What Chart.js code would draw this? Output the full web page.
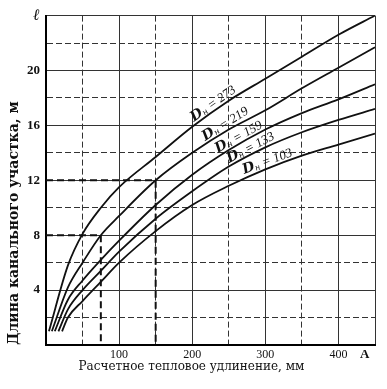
<!DOCTYPE html>
<html>
<head>
<meta charset="utf-8">
<script src="https://cdn.jsdelivr.net/npm/chart.js@4.4.0/dist/chart.umd.min.js"></script>
<style>
  html, body { margin: 0; padding: 0; background: #fff; }
  #wrap { width: 387px; height: 389px; position: relative; }
</style>
</head>
<body>
<div id="wrap"><canvas id="chart"></canvas></div>
<script>
// pipe outer diameters, one curve each
const diameters = [273, 219, 159, 133, 103];

// where each curve starts (near the origin)
const startDelta = [4, 8, 12, 17, 22];
const startLength = [1.0, 1.0, 1.0, 1.0, 1.0];

// thermal elongation, mm, and length of section, m
const deltaPoints = [30, 50, 75, 100, 150, 200, 250, 300, 350, 400, 450];
const len273 = [5.8, 8.1, 10.0, 11.5, 13.7, 15.9, 17.8, 19.4, 21.0, 22.6, 24.0];
const len219 = [4.2, 6.0, 8.0, 9.4, 12.0, 14.0, 15.7, 17.1, 18.7, 20.2, 21.7];
const len159 = [3.3, 4.7, 6.2, 7.6, 10.2, 12.4, 14.2, 15.7, 16.9, 17.9, 19.0];
const len133 = [2.6, 4.0, 5.4, 6.8, 9.2, 11.2, 13.0, 14.4, 15.5, 16.4, 17.2];
const len103 = [2.0, 3.2, 4.6, 6.0, 8.3, 10.2, 11.6, 12.8, 13.8, 14.6, 15.4];

// worked examples (dashed guides)
const guideLength = [12, 8];
const guideDelta = [150, 75];

const yTicks = [4, 8, 12, 16, 20];
const xTicks = [100, 200, 300, 400];

const allLengths = [len273, len219, len159, len133, len103];

// where along each curve its label sits (elongation, mm)
const labelAt = [234, 250, 268, 284, 306];

const datasets = allLengths.map((vals, i) => ({
    label: 'D ' + diameters[i],
    data: [{ x: startDelta[i], y: startLength[i] }]
        .concat(deltaPoints.map((x, j) => ({ x: x, y: vals[j] }))),
    borderColor: '#111',
    borderWidth: 1.8,
    pointRadius: 0,
    cubicInterpolationMode: 'monotone',
    fill: false
}));

guideLength.forEach((l, i) => {
    datasets.push({
        label: 'guide',
        data: [{ x: 0, y: l }, { x: guideDelta[i], y: l }, { x: guideDelta[i], y: 0 }],
        borderColor: '#111',
        borderWidth: 2,
        borderDash: [7, 4],
        pointRadius: 0,
        tension: 0,
        fill: false
    });
});

const curveLabels = {
    id: 'curveLabels',
    afterDatasetsDraw(chart) {
        const ctx = chart.ctx;
        const xs = chart.scales.x;
        diameters.forEach((d, i) => {
            const pts = chart.getDatasetMeta(i).data;
            const px = xs.getPixelForValue(labelAt[i]);
            let j = 0;
            while (j < pts.length - 2 && pts[j + 1].x < px) j++;
            const a = pts[j], b = pts[j + 1];
            const t = (px - a.x) / (b.x - a.x);
            const py = a.y + (b.y - a.y) * t;
            const ang = Math.atan2(b.y - a.y, b.x - a.x);

            const fD = 'italic bold 14px "DejaVu Serif"';
            const fSub = 'italic 8px "DejaVu Serif"';
            const fNum = 'italic 13px "Liberation Serif"';
            const rest = ' = ' + d;
            ctx.save();
            ctx.font = fD; const wD = ctx.measureText('D').width;
            ctx.font = fSub; const wS = ctx.measureText('н').width;
            ctx.font = fNum; const wN = ctx.measureText(rest).width;
            const total = wD + wS + wN;
            ctx.translate(px, py);
            ctx.rotate(ang);
            ctx.fillStyle = '#111';
            ctx.textBaseline = 'alphabetic';
            ctx.textAlign = 'left';
            let x0 = -total / 2;
            const y0 = -3;
            ctx.font = fD; ctx.fillText('D', x0, y0); x0 += wD;
            ctx.font = fSub; ctx.fillText('н', x0, y0 + 1); x0 += wS;
            ctx.font = fNum; ctx.fillText(rest, x0, y0);
            ctx.restore();
        });

        // end-of-axis letter on the elongation axis
        ctx.save();
        ctx.font = 'bold 13px "Liberation Serif"';
        ctx.fillStyle = '#111';
        ctx.textAlign = 'center';
        ctx.textBaseline = 'middle';
        ctx.fillText('A', xs.getPixelForValue(436), xs.top + 10);
        ctx.restore();
    }
};

const dashMinor = (ctx) => {
    if (!ctx.tick) return [];
    return ctx.tick.value % 100 === 0 || ctx.tick.value === 450 ? [] : [6, 3];
};
const dashMinorY = (ctx) => {
    if (!ctx.tick) return [];
    return ctx.tick.value % 4 === 0 ? [] : [6, 3];
};

new Chart(document.getElementById('chart'), {
    type: 'line',
    data: { datasets: datasets },
    options: {
        responsive: true,
        maintainAspectRatio: false,
        animation: false,
        layout: { padding: { top: 15, right: 12, bottom: 14, left: 0 } },
        plugins: { legend: { display: false }, tooltip: { enabled: false } },
        scales: {
            x: {
                type: 'linear',
                min: 0,
                max: 450,
                afterFit: s => { s.height = 30; },
                ticks: {
                    stepSize: 50,
                    autoSkip: false,
                    maxRotation: 0,
                    padding: 3,
                    color: '#111',
                    font: { family: 'Liberation Serif', size: 12 },
                    callback: v => xTicks.includes(v) ? String(v) : ''
                },
                grid: { color: '#333', lineWidth: 1, drawTicks: false },
                border: { color: '#000', width: 2, dash: dashMinor },
                title: {
                    display: true,
                    // trailing spaces nudge the centred title left, as in the original
                    text: 'Расчетное тепловое удлинение, мм          ',
                    color: '#111',
                    font: { family: 'DejaVu Serif', size: 12 },
                    padding: { top: 0, bottom: 1 }
                }
            },
            y: {
                min: 0,
                max: 24,
                afterFit: s => { s.width = 46; },
                ticks: {
                    stepSize: 2,
                    autoSkip: false,
                    padding: 6,
                    color: '#111',
                    font: c => c.tick && c.tick.value === 24
                        ? { family: 'DejaVu Serif', size: 16, weight: 'bold', style: 'italic' }
                        : { family: 'Liberation Serif', size: 13, weight: 'bold' },
                    callback: v => v === 24 ? 'ℓ' : (yTicks.includes(v) ? String(v) : '')
                },
                grid: { color: '#333', lineWidth: 1, drawTicks: false },
                border: { color: '#000', width: 2, dash: dashMinorY },
                title: {
                    display: true,
                    align: 'start',
                    text: 'Длина канального участка, м',
                    color: '#111',
                    font: { family: 'DejaVu Serif', size: 14, weight: 'bold' },
                    padding: { top: 6, bottom: 0 }
                }
            }
        }
    },
    plugins: [curveLabels]
});
</script>
</body>
</html>
